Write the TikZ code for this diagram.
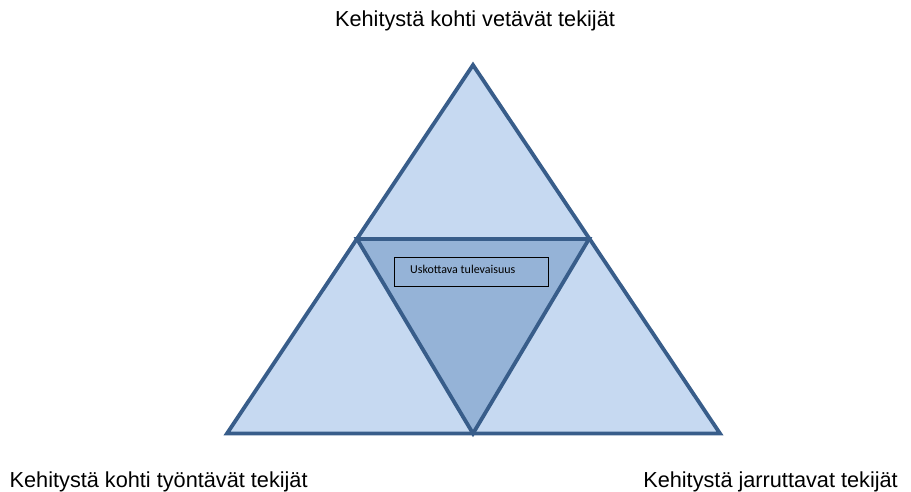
\documentclass[tikz,border=0pt]{standalone}
\usepackage{fontspec}
\setmainfont{Liberation Sans}
\newfontfamily\boxfont{Carlito}
\definecolor{paleblue}{HTML}{C6D9F1}
\definecolor{midblue}{HTML}{95B3D7}
\definecolor{edgeblue}{HTML}{385D8A}
\begin{document}
\begin{tikzpicture}[x=1pt,y=-1pt,
  tri/.style={draw=edgeblue,line width=3.8pt,line join=miter},
  caption/.style={font=\fontsize{21.7}{24}\selectfont,inner sep=0pt},
  labelbox/.style={draw=black,line width=1pt,fill=midblue,minimum width=154pt,minimum height=29pt,inner sep=0pt}]
  \useasboundingbox (0,0) rectangle (911,492);
  % outer triangle corners
  \coordinate (apex) at (473,65);
  \coordinate (bl) at (227,433.5);
  \coordinate (br) at (720,433.5);
  % inner triangle corners
  \coordinate (il) at (357,239);
  \coordinate (ir) at (589,239);
  \coordinate (ib) at (473,433.5);
  % fills
  \fill[paleblue] (apex) -- (bl) -- (br) -- cycle;
  \fill[midblue] (il) -- (ir) -- (ib) -- cycle;
  % outlines
  \draw[tri] (apex) -- (bl) -- (br) -- cycle;
  \draw[tri] (il) -- (ir) -- (ib) -- cycle;
  % central label
  \node[labelbox] (future) at (471,271.5) {};
  \node[font=\boxfont\fontsize{12}{13}\selectfont,anchor=west,inner sep=0pt] (futuretext) at (410,269) {Uskottava tulevaisuus};
  % corner captions
  \node[caption] (pull) at (475,21) {Kehitystä kohti vetävät tekijät};
  \node[caption,anchor=west] (push) at (9.5,482) {Kehitystä kohti työntävät tekijät};
  \node[caption,anchor=east] (brake) at (898,482) {Kehitystä jarruttavat tekijät};
\end{tikzpicture}
\end{document}
